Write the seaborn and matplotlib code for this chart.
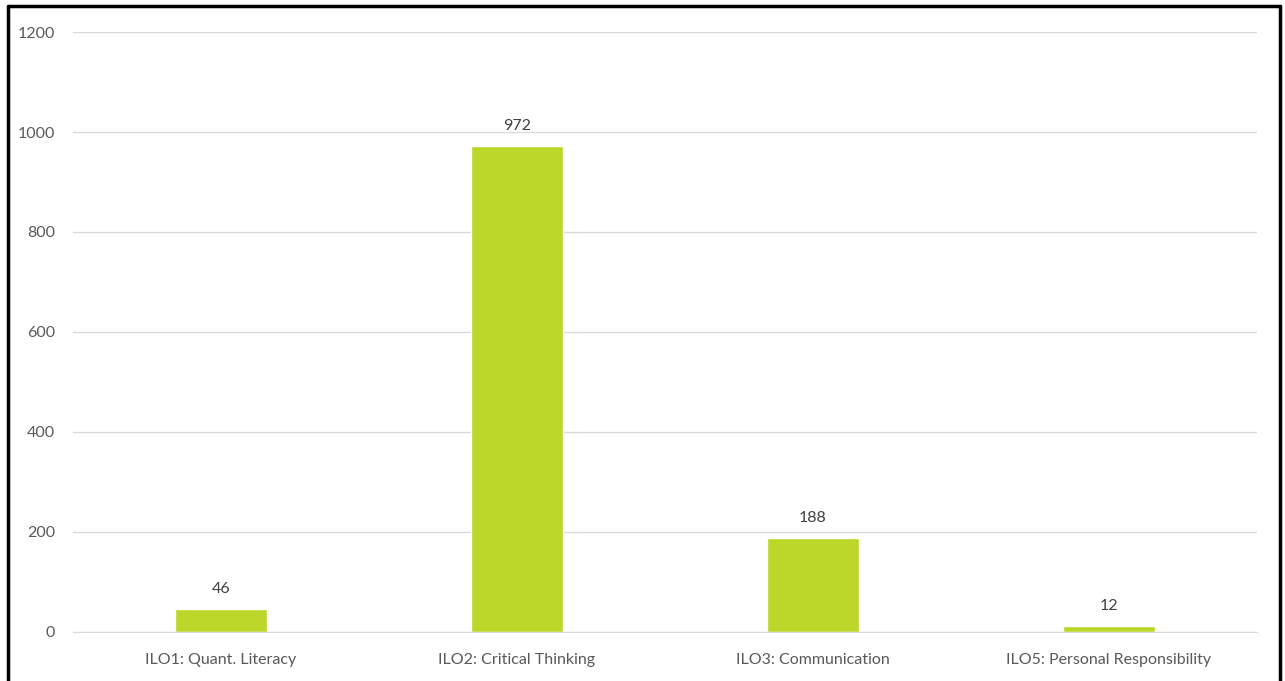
import pandas as pd
import seaborn as sns
import matplotlib.pyplot as plt
from matplotlib.lines import Line2D

categories = ["ILO1: Quant. Literacy", "ILO2: Critical Thinking",
              "ILO3: Communication", "ILO5: Personal Responsibility"]
counts = [46, 972, 188, 12]
y_ticks = [0, 200, 400, 600, 800, 1000, 1200]

df = pd.DataFrame({"ilo": categories, "count": counts})

sns.set_style("white")
plt.rcParams['font.family'] = ['Lato', 'DejaVu Sans']

fig = plt.figure(figsize=(12.85, 6.81), dpi=100)
ax = fig.add_axes([0.0568, 0.072, 0.9212, 0.881])

sns.barplot(data=df, x="ilo", y="count", color="#BCD72A", width=0.31,
            saturation=1, ax=ax)

ax.set_ylim(0, 1200)
ax.set_yticks(y_ticks)
ax.yaxis.grid(True, color="#d9d9d9", linewidth=1)
ax.set_axisbelow(True)
for s in ["top", "right", "left"]:
    ax.spines[s].set_visible(False)
ax.spines["bottom"].set_color("#d9d9d9")
ax.tick_params(axis="both", length=0, labelsize=11.5, colors="#595959")
ax.tick_params(axis="x", pad=15)
ax.tick_params(axis="y", pad=13)
ax.set_xlabel("")
ax.set_ylabel("")

for c in ax.containers:
    ax.bar_label(c, padding=9, fontsize=11.5, color="#404040")

# black frame round the picture
for xs, ys in [([0.0062, 0.0062], [0, 0.991]), ([0.0062, 0.996], [0.991, 0.991]),
               ([0.996, 0.996], [0, 0.991])]:
    fig.add_artist(Line2D(xs, ys, color="black", linewidth=2.5,
                          transform=fig.transFigure))

plt.savefig("out.png", dpi=100)
